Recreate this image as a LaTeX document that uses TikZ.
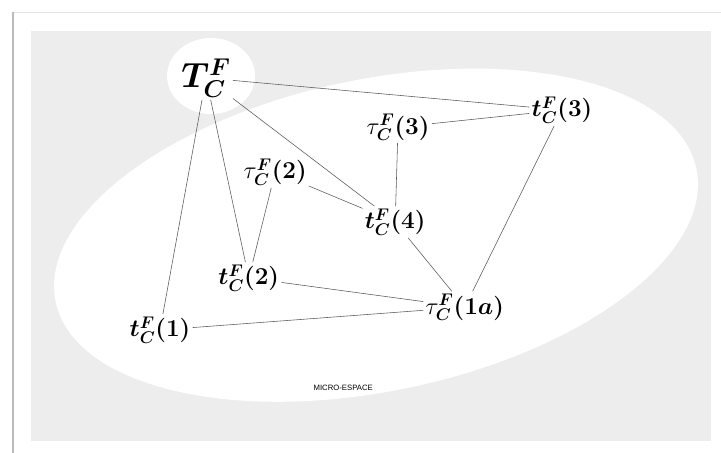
\documentclass[tikz,border=0pt]{standalone}
\usepackage{fontspec}
\usepackage{amsmath,bm}
\newfontfamily\labelsans{Liberation Sans}
\definecolor{fond}{HTML}{EDEDED}
\definecolor{cadre}{HTML}{BBBBBB}
\definecolor{filet}{HTML}{E4E4E4}
\definecolor{trait}{HTML}{5A5A5A}
\usetikzlibrary{positioning}

\begin{document}
\begin{tikzpicture}[
  elt/.style={inner sep=1.5pt, font=\fontsize{16.5}{19}\selectfont},
  lien/.style={draw=trait, line width=0.4pt},
]
\useasboundingbox (0,0) rectangle (18.025,-11.325);
\draw[filet, line width=0.6pt] (0.3,-0.3) -- (18.025,-0.3);
\draw[cadre, line width=1.4pt] (0.32,-0.3) -- (0.32,-11.325);
\fill[fond] (0.775,-0.775) rectangle (17.775,-11.025);
\fill[white, rotate around={11.7:(9.4,-5.88)}] (9.4,-5.88) ellipse (8.18cm and 3.9cm);
\fill[white] (5.275,-1.9) ellipse (1.1cm and 0.95cm);

\node[elt, font=\fontsize{23}{27}\selectfont] (T) at (5.15,-1.95) {$\bm{T_C^F}$};
\node[elt] (t3) at (14.05,-2.75) {$\bm{t_C^F(3)}$};
\node[elt] (tau3) at (9.95,-3.18) {$\tau_{\bm C}^{\bm F}\bm{(3)}$};
\node[elt] (tau2) at (6.88,-4.3) {$\tau_{\bm C}^{\bm F}\bm{(2)}$};
\node[elt] (t4) at (9.88,-5.55) {$\bm{t_C^F(4)}$};
\node[elt] (t2) at (6.22,-6.95) {$\bm{t_C^F(2)}$};
\node[elt] (tau1a) at (11.62,-7.68) {$\tau_{\bm C}^{\bm F}\bm{(1a)}$};
\node[elt] (t1) at (4.0,-8.25) {$\bm{t_C^F(1)}$};
\node[font=\labelsans\fontsize{5.5}{6}\selectfont] (micro) at (8.58,-9.7) {MICRO-ESPACE};

\draw[lien] (T) -- (t3);
\draw[lien] (T) -- (t4);
\draw[lien] (T) -- (t1);
\draw[lien] (T) -- (t2);
\draw[lien] (tau3) -- (t3);
\draw[lien] (tau3) -- (t4);
\draw[lien] (tau2) -- (t4);
\draw[lien] (tau2) -- (t2);
\draw[lien] (t4) -- (tau1a);
\draw[lien] (t3) -- (tau1a);
\draw[lien] (t2) -- (tau1a);
\draw[lien] (t1) -- (tau1a);
\end{tikzpicture}
\end{document}
